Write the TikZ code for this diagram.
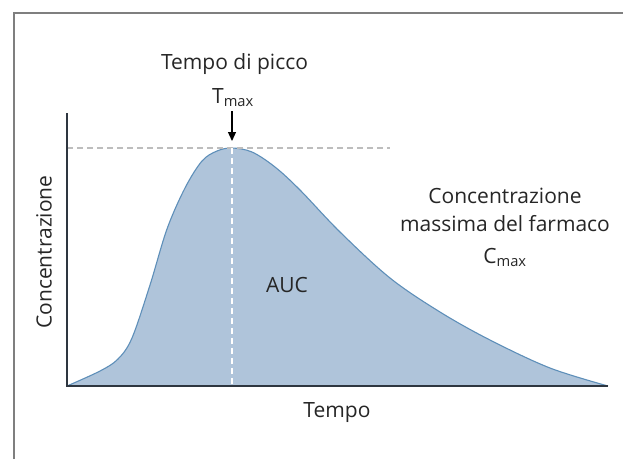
\documentclass[tikz,border=0pt]{standalone}
\usepackage{fontspec}
\setmainfont{Open Sans}
\usepackage{xcolor}
\usepackage{tikz}
\usetikzlibrary{positioning}
\usetikzlibrary{arrows.meta}

\definecolor{aucFill}{HTML}{AFC4DA}
\definecolor{aucLine}{HTML}{5E8FB9}
\definecolor{axisDark}{HTML}{2E3640}
\definecolor{frameGrey}{HTML}{7F7F7F}
\definecolor{guideGrey}{HTML}{BDBDBD}

\begin{document}
\begin{tikzpicture}[x=1pt, y=-1pt,
        >={Stealth[inset=0pt,length=9pt,width=8pt]},
		plotText/.style = { font = \fontsize{21}{25}\selectfont, inner sep=0pt, outer sep=0pt, text = black!85 },
		baseText/.style = { plotText, anchor = base },
		axisLine/.style = { draw = axisDark, line width = 1.6pt },
		guideLine/.style = { draw = guideGrey, line width = 1.1pt, dash pattern = on 6pt off 4pt },
		peakLine/.style = { draw = white, line width = 1.1pt, dash pattern = on 6pt off 4pt },
		]
		\useasboundingbox (0,0) rectangle (623,459);
		
		% frame (top and left only)
		\draw [frameGrey, line width = 1.8pt] (14,459) -- (14,13) -- (623,13);
		
		\coordinate (origin) at (67,386);
		\coordinate (yTop) at (67,113);
		\coordinate (xEnd) at (608,386);
		\coordinate (peak) at (232,148);
		\coordinate (peakFoot) at (232,386);
		\coordinate (guideStart) at (67,148);
		\coordinate (guideEnd) at (390,148);
		
		% area under the curve
		\filldraw [fill = aucFill, draw = aucLine, line width = 1.1pt] plot [smooth, tension = 0.55] coordinates {
			(67,386) (100,371) (118,359) (132,338) (150,285) (167,229) (185,188) (202,161) (217,151) (232,148)
			(252,152) (275,167) (300,190) (340,232) (390,278) (440,312) (490,340) (550,368) (608,386)};
		
		\draw [guideLine] (guideStart) -- (guideEnd);
		\draw [peakLine] (peak) -- (peakFoot);
		
		\draw [axisLine] (yTop) -- (origin) -- (xEnd);
		
		\node[baseText] (picco) at (234.5,69) {Tempo di picco};
		\node[baseText] (tmax) at (233,103) {T\textsubscript{max}};
		\coordinate (arrowStart) at (232,111);
		\coordinate (arrowTip) at (232,141);
		\draw [->, line width = 1.2pt, black] (arrowStart) -- (arrowTip);
		
		\node[baseText] (auc) at (287,292) {AUC};
		\node[plotText] (tempo) at (337,413) {Tempo};
		\node[plotText, rotate = 90] (conc) at (44,252) {Concentrazione};
		
		\node[baseText] (cmaxA) at (505,203) {Concentrazione};
		\node[baseText] (cmaxB) at (505,231) {massima del farmaco};
		\node[baseText] (cmaxC) at (505,263) {C\textsubscript{max}};
		\end{tikzpicture}
\end{document}
